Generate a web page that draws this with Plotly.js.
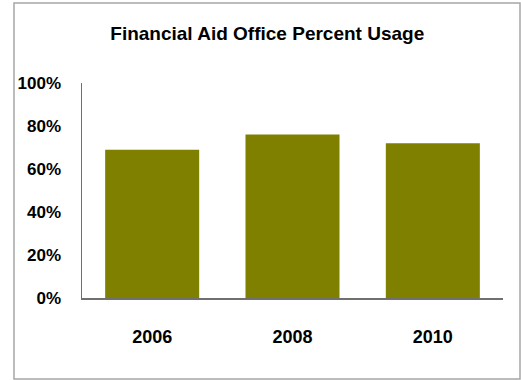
<!DOCTYPE html>
<html>
<head>
<meta charset="utf-8">
<script src="https://cdn.plot.ly/plotly-3.0.1.min.js"></script>
<style>html,body{margin:0;padding:0;background:#fff;}#chart{width:521px;height:380px;}</style>
</head>
<body>
<div id="chart"></div>
<script>
const years = ['2006', '2008', '2010'];
const usage = [0.69, 0.76, 0.72];
const yTickVals = [0, 0.2, 0.4, 0.6, 0.8, 1.0];
const yTickText = ['0%', '20%', '40%', '60%', '80%', '100%'];
const chartTitle = 'Financial Aid Office Percent Usage';

const font = 'Liberation Sans, Arial, sans-serif';

Plotly.newPlot('chart', [{
  type: 'bar',
  x: years,
  y: usage,
  marker: {color: '#808000'},
  hoverinfo: 'none'
}], {
  width: 521, height: 380,
  margin: {l: 82, r: 18, t: 83, b: 82},
  paper_bgcolor: '#fff', plot_bgcolor: '#fff',
  bargap: 0.33,
  showlegend: false,
  title: {text: chartTitle, font: {family: font, size: 19, color: '#000', weight: 'bold'},
          x: 0.513, xanchor: 'center', y: 0.913, yanchor: 'middle'},
  xaxis: {
    type: 'category',
    showline: true, linecolor: '#707070', linewidth: 1.5,
    ticks: 'outside', ticklen: 22, tickcolor: 'rgba(0,0,0,0)',
    showgrid: false, zeroline: false,
    tickfont: {family: font, size: 18, color: '#000', weight: 'bold'}
  },
  yaxis: {
    range: [0, 1],
    tickvals: yTickVals, ticktext: yTickText,
    showline: true, linecolor: '#707070', linewidth: 1.5,
    ticks: 'outside', ticklen: 16, tickcolor: 'rgba(0,0,0,0)',
    showgrid: false, zeroline: false,
    tickfont: {family: font, size: 17, color: '#000', weight: 'bold'}
  },
  shapes: [{
    type: 'rect', xref: 'paper', yref: 'paper',
    x0: -68/421, x1: 438/421, y0: -81/215, y1: 295/215,
    line: {color: '#a6a6a6', width: 1.5}, fillcolor: 'rgba(0,0,0,0)', layer: 'below'
  }]
}, {staticPlot: true});
</script>
</body>
</html>
